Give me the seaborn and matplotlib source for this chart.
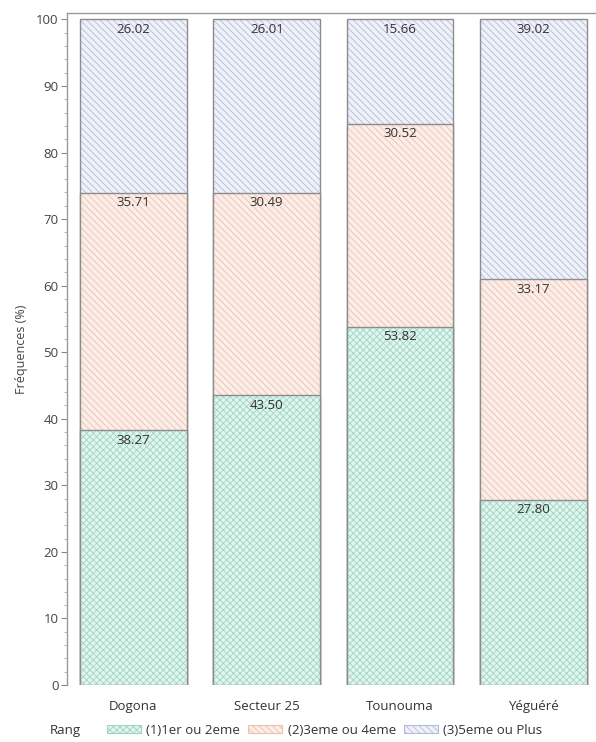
import pandas as pd
import numpy as np
import seaborn as sns
import matplotlib.pyplot as plt
from matplotlib.patches import Patch
from matplotlib.ticker import MultipleLocator

# Data
sites = ['Dogona', 'Secteur 25', 'Tounouma', 'Yéguéré']
rang_labels = ['(1)1er ou 2eme', '(2)3eme ou 4eme', '(3)5eme ou Plus']
rang1 = [38.27, 43.50, 53.82, 27.80]
rang2 = [35.71, 30.49, 30.52, 33.17]
rang3 = [26.02, 26.01, 15.66, 39.02]

fills = ['#e2f4ee', '#fbeee8', '#eef1f8']
hatch_cols = ['#9dd6c5', '#efbfae', '#b3bcdb']
hatches = ['xxxxx', '\\\\\\\\\\', '\\\\\\\\\\']

sns.set_style('white')
plt.rcParams['font.family'] = ['Open Sans', 'DejaVu Sans']
plt.rcParams['hatch.linewidth'] = 0.6

df = pd.DataFrame({'site': sites, 'r1': rang1, 'r2': rang2, 'r3': rang3})
df['c1'] = df['r1']
df['c2'] = df['r1'] + df['r2']
df['c3'] = df['c2'] + df['r3']

fig = plt.figure(figsize=(5.96, 7.42), dpi=100)
ax = fig.add_axes([0.112, 0.0768, 0.888, 0.906])

# draw from the top layer down so lower segments cover upper ones
for i, col in [(2, 'c3'), (1, 'c2'), (0, 'c1')]:
    n_before = len(ax.patches)
    sns.barplot(data=df, x='site', y=col, order=sites, color=fills[i],
                width=0.8, ax=ax, saturation=1)
    for p in ax.patches[n_before:]:
        p.set_facecolor(fills[i])
        p.set_edgecolor(hatch_cols[i])
        p.set_hatch(hatches[i])
        p.set_linewidth(0)
    # gray outline on top of the hatch
    for p in ax.patches[n_before:]:
        ax.add_patch(plt.Rectangle((p.get_x(), p.get_y()), p.get_width(), p.get_height(),
                                   fill=False, edgecolor='#8c8c8c', linewidth=1.0))

# value labels just under the top of each segment
for j in range(len(sites)):
    for val, top in [(rang1[j], df['c1'][j]), (rang2[j], df['c2'][j]), (rang3[j], df['c3'][j])]:
        ax.text(j, top - 0.5, f'{val:.2f}', ha='center', va='top', fontsize=9.5, color='#333333')

ax.set_xlim(-0.5, 3.47)
ax.set_ylim(0, 101)
ax.yaxis.set_major_locator(MultipleLocator(10))
ax.yaxis.set_minor_locator(MultipleLocator(2))
ax.tick_params(axis='y', which='major', left=True, length=4, color='#888888', labelsize=9.5,
               labelcolor='#444444', pad=2)
ax.tick_params(axis='y', which='minor', left=True, length=2, color='#aaaaaa')
ax.tick_params(axis='x', bottom=False, labelsize=9.5, labelcolor='#333333', pad=7)
ax.set_xlabel('')
ax.set_ylabel('Fréquences (%)', fontsize=9, color='#444444', labelpad=6)

for s in ['left', 'top']:
    ax.spines[s].set_color('#999999')
    ax.spines[s].set_linewidth(1.0)
ax.spines['right'].set_visible(False)
ax.spines['bottom'].set_visible(False)

# legend at the bottom
handles = [Patch(facecolor=fills[i], edgecolor=hatch_cols[i], hatch=hatches[i], linewidth=0.8)
           for i in range(3)]
fig.text(0.084, 0.016, 'Rang', fontsize=9.5, color='#333333', va='center')
leg = fig.legend(handles, rang_labels, loc='center left', bbox_to_anchor=(0.17, 0.016),
                 ncol=3, frameon=False, fontsize=9.5, handlelength=2.6, handleheight=0.55,
                 columnspacing=0.6, handletextpad=0.4, borderaxespad=0)
for t in leg.get_texts():
    t.set_color('#333333')

fig.savefig('out.png', dpi=100)
